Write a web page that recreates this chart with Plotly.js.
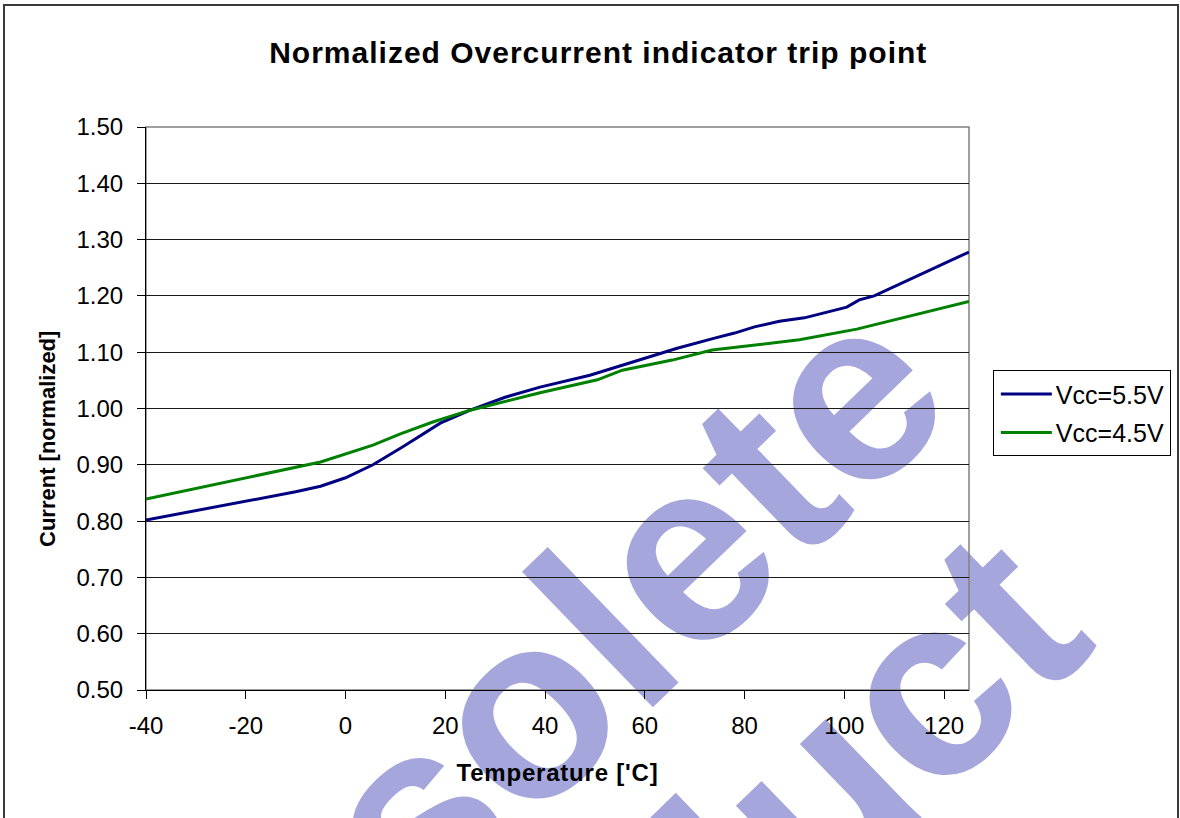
<!DOCTYPE html>
<html>
<head>
<meta charset="utf-8">
<script src="https://cdn.plot.ly/plotly-3.0.1.min.js"></script>
<style>
  html, body { margin: 0; padding: 0; background: #ffffff; }
  #wrap { position: relative; width: 1180px; height: 818px; overflow: hidden; background: #ffffff; }
  #wm { position: absolute; left: 0; top: 0; z-index: 0; }
  #chart { position: absolute; left: 0; top: 0; width: 1180px; height: 818px; z-index: 1; }
  #frame { position: absolute; left: 3px; top: 4px; width: 1172px; height: 900px;
           border: 2px solid #3a3a3a; z-index: 2; pointer-events: none; }
  #chart .gtitle { letter-spacing: 1px; }
  #chart .xtitle { letter-spacing: 0.8px; }
</style>
</head>
<body>
<div id="wrap">
  <svg id="wm" width="1180" height="818" xmlns="http://www.w3.org/2000/svg">
    <g font-family="'Liberation Sans', Arial, sans-serif" font-weight="bold" font-size="260" fill="#A4A6DC" text-anchor="middle">
      <text transform="translate(562,795) rotate(-44)">Obsolete</text>
      <text transform="translate(747,986) rotate(-44)">Product</text>
    </g>
  </svg>
  <div id="chart"></div>
  <div id="frame"></div>
</div>
<script>
// Vcc = 5.5 V
const tempVcc55 = [-40, -10, -5, 0, 5.5, 11.5, 19, 25, 32, 39, 49, 62, 66.5, 74, 78, 82, 87, 92, 100.5, 103, 106, 125];
const currVcc55 = [0.802, 0.852, 0.862, 0.877, 0.900, 0.932, 0.974, 0.997, 1.020, 1.038, 1.059, 1.095, 1.107, 1.125, 1.134, 1.145, 1.155, 1.161, 1.180, 1.193, 1.200, 1.278];
// Vcc = 4.5 V
const tempVcc45 = [-40, -10, -5, 5.5, 11, 17.5, 25, 39, 50.5, 55.5, 65.5, 73.5, 91, 102.5, 125];
const currVcc45 = [0.839, 0.896, 0.905, 0.935, 0.955, 0.976, 0.997, 1.028, 1.051, 1.068, 1.086, 1.104, 1.122, 1.141, 1.190];

const seriesNames = ['Vcc=5.5V', 'Vcc=4.5V'];
const yTickVals = [0.5, 0.6, 0.7, 0.8, 0.9, 1.0, 1.1, 1.2, 1.3, 1.4, 1.5];
const yTickText = ['0.50', '0.60', '0.70', '0.80', '0.90', '1.00', '1.10', '1.20', '1.30', '1.40', '1.50'];
const xTickVals = [-40, -20, 0, 20, 40, 60, 80, 100, 120];
const xTickText = ['-40', '-20', '0', '20', '40', '60', '80', '100', '120'];
const yAxisTitle = 'Current [normalized]';

const FONT = "'Liberation Sans', Arial, sans-serif";

const traces = [
  { x: tempVcc55, y: currVcc55, name: seriesNames[0], mode: 'lines', legendgroup: 'a',
    line: { color: '#000080', width: 3 } },
  { x: tempVcc45, y: currVcc45, name: seriesNames[1], mode: 'lines', legendgroup: 'b',
    line: { color: '#008000', width: 3 } }
];

const layout = {
  width: 1180, height: 818,
  paper_bgcolor: 'rgba(0,0,0,0)',
  plot_bgcolor: 'rgba(0,0,0,0)',
  margin: { l: 146, r: 211, t: 127, b: 128, pad: 0, autoexpand: false },
  font: { family: FONT, color: '#000000', size: 24 },
  title: {
    text: '<b>Normalized Overcurrent indicator trip point</b>',
    font: { family: FONT, size: 30, color: '#000000' },
    xref: 'container', yref: 'container', x: 0.507, y: 0.936,
    xanchor: 'center', yanchor: 'middle'
  },
  xaxis: {
    range: [-40, 125], tickmode: 'array', tickvals: xTickVals, ticktext: xTickText,
    ticks: 'outside', ticklen: 8, tickcolor: '#000', tickwidth: 1,
    showline: true, linecolor: '#000', linewidth: 1,
    showgrid: false, zeroline: false,
    tickfont: { family: FONT, size: 24, color: '#000' },
    ticklabelstandoff: 6,
    title: { text: "<b>Temperature ['C]</b>", font: { family: FONT, size: 24, color: '#000' }, standoff: 26 },
    automargin: false
  },
  yaxis: {
    range: [0.5, 1.5], tickmode: 'array', tickvals: yTickVals, ticktext: yTickText,
    ticks: 'outside', ticklen: 8, tickcolor: '#000', tickwidth: 1,
    showline: true, linecolor: '#000', linewidth: 1,
    showgrid: true, gridcolor: '#1a1a1a', gridwidth: 1, zeroline: false,
    tickfont: { family: FONT, size: 24, color: '#000' },
    ticklabelstandoff: 9,
    automargin: false
  },
  annotations: [
    { text: '<b>' + yAxisTitle + '</b>', textangle: -90, showarrow: false,
      xref: 'paper', yref: 'paper', x: -0.119, y: 0.446, xanchor: 'center', yanchor: 'middle',
      font: { family: FONT, size: 22, color: '#000' } }
  ],
  shapes: [
    { type: 'rect', xref: 'paper', yref: 'paper', x0: 0, x1: 1, y0: 0, y1: 1,
      line: { color: '#808080', width: 1.5 }, layer: 'below' }
  ],
  showlegend: true,
  legend: {
    x: 1.029, y: 0.568, xanchor: 'left', yanchor: 'top',
    bgcolor: '#ffffff', bordercolor: '#000000', borderwidth: 1,
    font: { family: FONT, size: 25, color: '#000' },
    tracegroupgap: 3, itemwidth: 52
  }
};

Plotly.newPlot('chart', traces, layout, { staticPlot: true, displayModeBar: false }).then(function (gd) {
  // lengthen the legend line samples to match the reference's longer strokes
  gd.querySelectorAll('.legendlines path').forEach(function (p) {
    p.setAttribute('d', 'M7,0h51');
  });
});
</script>
</body>
</html>
